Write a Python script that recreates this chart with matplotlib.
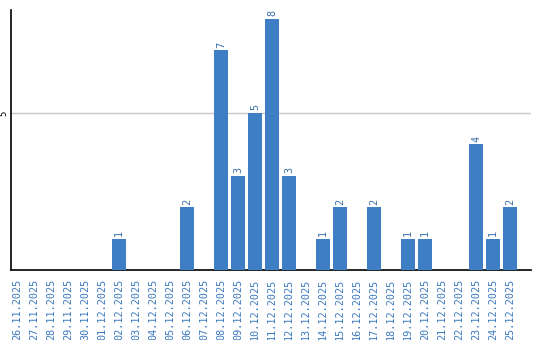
import matplotlib
matplotlib.use("Agg")
import matplotlib.pyplot as plt

dates = ["26.11.2025", "27.11.2025", "28.11.2025", "29.11.2025", "30.11.2025",
         "01.12.2025", "02.12.2025", "03.12.2025", "04.12.2025", "05.12.2025",
         "06.12.2025", "07.12.2025", "08.12.2025", "09.12.2025", "10.12.2025",
         "11.12.2025", "12.12.2025", "13.12.2025", "14.12.2025", "15.12.2025",
         "16.12.2025", "17.12.2025", "18.12.2025", "19.12.2025", "20.12.2025",
         "21.12.2025", "22.12.2025", "23.12.2025", "24.12.2025", "25.12.2025"]
values = [0, 0, 0, 0, 0, 0, 1, 0, 0, 0, 2, 0, 7, 3, 5, 8, 3, 0, 1, 2,
          0, 2, 0, 1, 1, 0, 0, 4, 1, 2]

bar_color = "#3d7ec4"
label_color = "#3a78c0"

fig = plt.figure(figsize=(5.4, 3.4), dpi=100)
ax = fig.add_axes([11/540, 1-270/340, 520/540, 260/340])

x = list(range(len(dates)))
ax.bar(x, values, width=0.82, color=bar_color, zorder=3)
for xi, v in zip(x, values):
    if v > 0:
        ax.text(xi, v + 0.08, str(v), rotation=90, ha="center", va="bottom",
                fontsize=7.3, family="DejaVu Sans Mono", color="#3a6ea8")

ax.set_xlim(-0.353, 30.235)
ax.set_ylim(0, 8.28)
ax.set_yticks([5])
ax.set_yticklabels(["5"], rotation=90, fontsize=6.5, family="DejaVu Sans Mono", va="center")
ax.yaxis.grid(True, color="#c8c8c8", linewidth=1, zorder=0)
ax.tick_params(axis="y", length=0, pad=2)
ax.set_xticks(x)
ax.set_xticklabels(dates, rotation=90, fontsize=7.3, family="DejaVu Sans Mono", color=label_color)
ax.tick_params(axis="x", length=0, pad=6)
for s in ["top", "right"]:
    ax.spines[s].set_visible(False)
ax.spines["left"].set_linewidth(1.2)
ax.spines["bottom"].set_linewidth(1.2)

fig.savefig("out.png", dpi=100)
